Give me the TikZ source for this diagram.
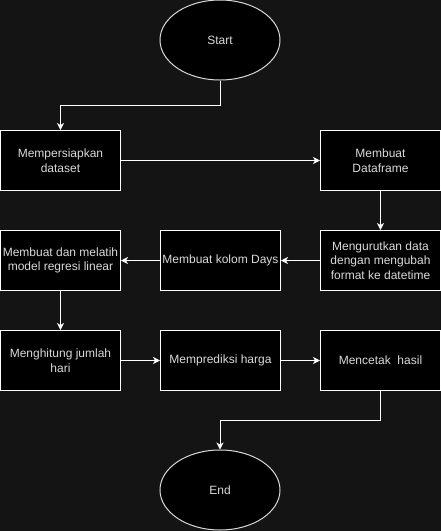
\documentclass[tikz,border=0pt]{standalone}
\usepackage{fontspec}
\setmainfont{Liberation Sans}
\usetikzlibrary{arrows.meta,shapes.geometric}
\definecolor{bg}{RGB}{20,20,20}
\definecolor{txt}{RGB}{218,218,218}
\tikzset{
  x=1pt, y=-1pt,
  stepbox/.style={draw=white, fill=black, line width=1pt, minimum width=120pt, minimum height=60pt, inner sep=1pt, align=center, text=txt, font=\fontsize{12pt}{14.5pt}\selectfont},
  term/.style={ellipse, draw=white!85!black, fill=black, line width=1pt, minimum width=120pt, minimum height=80pt, inner sep=0pt, text=txt, font=\fontsize{12pt}{14.5pt}\selectfont},
  conn/.style={draw=white, line width=1pt, -{Stealth[length=7pt,width=7pt,inset=2pt]}}
}
\begin{document}
\begin{tikzpicture}
\fill[bg] (0,0) rectangle (441,531);
\useasboundingbox (0,0) rectangle (441,531);
\node[term] (start) at (220,40) {Start};
\node[stepbox] (prep) at (60.5,160.5) {Mempersiapkan\\dataset};
\node[stepbox] (df) at (380.5,160.5) {Membuat\\Dataframe};
\node[stepbox] (sort) at (380.5,260.5) {Mengurutkan data\\dengan mengubah\\format ke datetime};
\node[stepbox] (days) at (220.5,260.5) {Membuat kolom Days};
\node[stepbox] (model) at (60.5,260.5) {Membuat dan melatih\\model regresi linear};
\node[stepbox] (count) at (60.5,360.5) {Menghitung jumlah\\hari};
\node[stepbox] (pred) at (220.5,360.5) {Memprediksi harga};
\node[stepbox] (print) at (380.5,360.5) {Mencetak\ \ hasil};
\node[term] (end) at (220,490) {End};
\draw[conn] (start.south) |- (60.5,105.5) -- (prep.north);
\draw[conn] (prep) -- (df);
\draw[conn] (df) -- (sort);
\draw[conn] (sort) -- (days);
\draw[conn] (days) -- (model);
\draw[conn] (model) -- (count);
\draw[conn] (count) -- (pred);
\draw[conn] (pred) -- (print);
\draw[conn] (print.south) |- (220,420.5) -- (end.north);
\end{tikzpicture}
\end{document}
